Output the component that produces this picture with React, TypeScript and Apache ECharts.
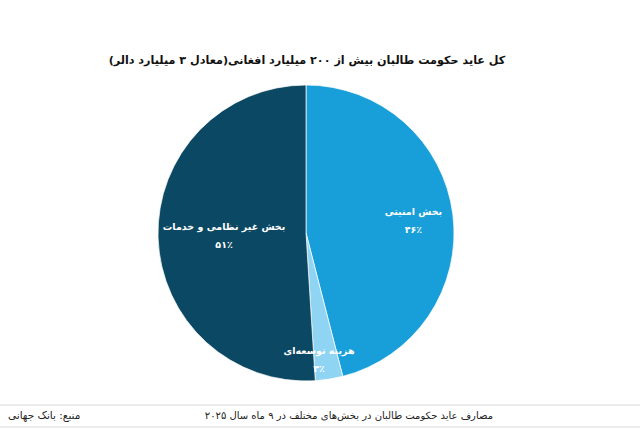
import React, { useEffect, useRef } from "react";
import * as echarts from "echarts";

const titleText = "کل عاید حکومت طالبان بیش از ۲۰۰ میلیارد افغانی(معادل ۳ میلیارد دالر)";
const footerNote = "مصارف عاید حکومت طالبان در بخش‌های مختلف در ۹ ماه سال ۲۰۲۵";
const sourceNote = "منبع: بانک جهانی";

const categories = ["بخش امنیتی", "هزینه توسعه‌ای", "بخش غیر نظامی و خدمات"];
const values = [46, 3, 51];
const percentLabels = ["۴۶٪", "۳٪", "۵۱٪"];
const colors = ["#189fda", "#8fd4f3", "#0b4863"];
const labelOffsets = [[31, -3], [1, 50], [-5, 0]];

const FONT = "'DejaVu Sans', 'Noto Sans', sans-serif";

export default function App() {
  const ref = useRef<HTMLDivElement>(null);
  useEffect(() => {
    document.body.style.margin = "0";
    const chart = echarts.init(ref.current!, null, { renderer: "svg" });
    chart.setOption({
      animation: false,
      backgroundColor: "#ffffff",
      title: {
        text: titleText,
        left: 302,
        textAlign: "center",
        top: 50,
        textStyle: { fontFamily: FONT, fontSize: 11.2, fontWeight: "bold", color: "#111" },
      },
      series: [
        {
          type: "pie",
          center: [306, 233],
          radius: 148,
          startAngle: 90,
          clockwise: true,
          avoidLabelOverlap: false,
          itemStyle: { borderColor: "rgba(255,255,255,0.7)", borderWidth: 1 },
          label: {
            show: true,
            position: "inside",
            color: "#ffffff",
            fontFamily: FONT,
            fontSize: 9.5,
            fontWeight: "bold",
            lineHeight: 18,
            align: "center",
            overflow: "none",
          },
          labelLine: { show: false },
          emphasis: { disabled: true },
          data: categories.map((c, i) => ({
            name: c,
            value: values[i],
            itemStyle: { color: colors[i] },
            label: {
              formatter: c + "\n" + percentLabels[i],
              offset: labelOffsets[i],
            },
          })),
        },
      ],
      graphic: [
        { type: "line", shape: { x1: 0, y1: 405, x2: 640, y2: 405 }, style: { stroke: "#d8d8d8", lineWidth: 1 } },
        { type: "line", shape: { x1: 0, y1: 427, x2: 640, y2: 427 }, style: { stroke: "#d8d8d8", lineWidth: 1 } },
        {
          type: "text",
          x: 493,
          y: 415,
          style: { text: footerNote, fontFamily: FONT, fontSize: 10, fill: "#222", align: "right", verticalAlign: "middle" },
        },
        {
          type: "text",
          x: 8,
          y: 415,
          style: { text: sourceNote, fontFamily: FONT, fontSize: 10.5, fill: "#222", align: "left", verticalAlign: "middle" },
        },
      ],
    });
    return () => chart.dispose();
  }, []);
  return <div ref={ref} style={{ width: 640, height: 429 }} />;
}
